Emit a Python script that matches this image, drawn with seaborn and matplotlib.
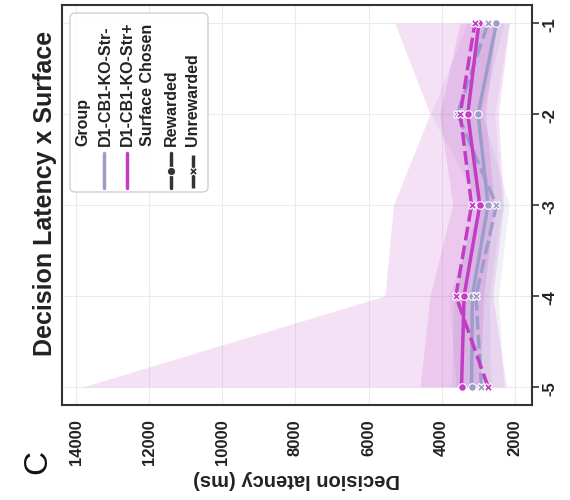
import numpy as np
import pandas as pd
import matplotlib
matplotlib.use("Agg")
import matplotlib.pyplot as plt
from matplotlib.patches import FancyBboxPatch
import seaborn as sns

sns.set_style("whitegrid")
plt.rcParams['font.family'] = ['Liberation Sans', 'DejaVu Sans']
plt.rcParams['axes.unicode_minus'] = False

# surface levels
surface = [-5, -4, -3, -2, -1]

# mean decision latency (ms)
str_minus_rew = [3180, 3160, 2730, 3000, 2500]
str_minus_unrew = [2910, 3060, 2500, 3570, 2730]
str_plus_rew = [3455, 3385, 2955, 3285, 2980]
str_plus_unrew = [2730, 3610, 3180, 3490, 3090]

# confidence bands
str_minus_rew_lo = [2650, 2700, 2350, 2550, 2150]
str_minus_rew_hi = [3750, 3650, 3150, 3500, 2950]
str_minus_unrew_lo = [2300, 2450, 2150, 2900, 2300]
str_minus_unrew_hi = [3600, 3800, 2950, 4300, 3300]
str_plus_rew_lo = [2950, 2850, 2550, 2800, 2500]
str_plus_rew_hi = [4590, 4320, 3700, 4050, 3500]
str_plus_unrew_lo = [2230, 2600, 2300, 2450, 2140]
str_plus_unrew_hi = [13810, 5550, 5320, 4320, 5280]

groups = ["D1-CB1-KO-Str-", "D1-CB1-KO-Str+"]
chosen = ["Rewarded", "Unrewarded"]
palette = {"D1-CB1-KO-Str-": "#9d9dcb", "D1-CB1-KO-Str+": "#c23cc6"}

series = [
    (groups[0], chosen[0], str_minus_rew, str_minus_rew_lo, str_minus_rew_hi),
    (groups[0], chosen[1], str_minus_unrew, str_minus_unrew_lo, str_minus_unrew_hi),
    (groups[1], chosen[0], str_plus_rew, str_plus_rew_lo, str_plus_rew_hi),
    (groups[1], chosen[1], str_plus_unrew, str_plus_unrew_lo, str_plus_unrew_hi),
]

rows = []
for g, c, vals, lo, hi in series:
    for s, v in zip(surface, vals):
        rows.append({"Group": g, "Surface Chosen": c, "Surface": s, "Latency": v})
df = pd.DataFrame(rows)

fig = plt.figure(figsize=(5.7, 5.0), dpi=100)
ax = fig.add_axes([61.7/570, 1-405/500, 470/570, 400/500])

for g, c, vals, lo, hi in series:
    ax.fill_betweenx(surface, lo, hi, color=palette[g], alpha=0.15, lw=0, zorder=1)

sns.lineplot(data=df, x="Latency", y="Surface", hue="Group", style="Surface Chosen",
             hue_order=groups, style_order=chosen, palette=palette,
             markers=["o", "X"], dashes=[(None, None), (4, 1.5)],
             orient="y", sort=False, errorbar=None, legend=False,
             lw=2.5, markersize=5.5, markeredgecolor="white", markeredgewidth=0.8,
             ax=ax, zorder=3)

ax.set_xlim(14394, 1535)
ax.set_ylim(-5.2, -0.8)
ax.set_xticks([14000, 12000, 10000, 8000, 6000, 4000, 2000])
ax.set_yticks(surface)
ax.yaxis.tick_right()
ax.set_ylabel("")
ax.tick_params(axis="x", labelrotation=90, labelsize=12, length=5, width=1.2, color="#333333", pad=5)
ax.tick_params(axis="y", labelrotation=90, labelsize=12, length=5, width=1.2, color="#333333", pad=3, right=True)
for t in ax.get_xticklabels() + ax.get_yticklabels():
    t.set_fontweight("bold")
    t.set_color("#222222")
ax.grid(color="#ebebeb", lw=0.8)
for sp in ax.spines.values():
    sp.set_color("#333333")
    sp.set_linewidth(1.5)

ax.set_xlabel("Decision latency (ms)", rotation=180, fontsize=14.5, fontweight="bold",
              color="#222222", labelpad=4)

fig.text(45/570, 1-193/500, "Decision Latency x Surface", rotation=90, ha="center", va="center",
         fontsize=18, fontweight="bold", color="#222222")
fig.text(38/570, 1-462/500, "C", rotation=90, ha="center", va="center", fontsize=24, color="#111111")

# legend, drawn turned like the rest of the panel
def to_ax(px, py):
    return (px - 61.7) / 470, (405 - py) / 400

bx0, by0 = to_ax(70, 192)
bx1, by1 = to_ax(208, 13)
ax.add_patch(FancyBboxPatch((bx0, by0), bx1 - bx0, by1 - by0, boxstyle="round,pad=0,rounding_size=0.012",
                            transform=ax.transAxes, facecolor="white", edgecolor="#cccccc",
                            lw=1, alpha=0.9, zorder=5))
leg_labels = ["Group", groups[0], groups[1], "Surface Chosen", chosen[0], chosen[1]]
leg_x = [83, 105, 127, 148, 171, 193]
for lab, px in zip(leg_labels, leg_x):
    tx, ty = to_ax(px, 146)
    ax.text(tx, ty, lab, transform=ax.transAxes, rotation=90, rotation_mode="anchor",
            ha="left", va="center", fontsize=11.5, fontweight="bold", color="#222222", zorder=6)

hy0 = to_ax(0, 188)[1]
hy1 = to_ax(0, 153)[1]
hyc = (hy0 + hy1) / 2
for px, col in [(104, palette[groups[0]]), (126.5, palette[groups[1]])]:
    hx = to_ax(px, 0)[0]
    ax.plot([hx, hx], [hy0, hy1], color=col, lw=2.5, transform=ax.transAxes, zorder=6, clip_on=False)
for px, mk, ls in [(170.5, "o", "-"), (192.5, "X", (0, (4, 1.5)))]:
    hx = to_ax(px, 0)[0]
    ax.plot([hx, hx], [hy0, hy1], color="#333333", lw=2.5, ls=ls, transform=ax.transAxes, zorder=6, clip_on=False)
    ax.plot([hx], [hyc], color="#333333", marker=mk, markersize=6, markeredgecolor="white",
            markeredgewidth=0.8, transform=ax.transAxes, zorder=7, clip_on=False)

plt.savefig("out.png", dpi=100)
